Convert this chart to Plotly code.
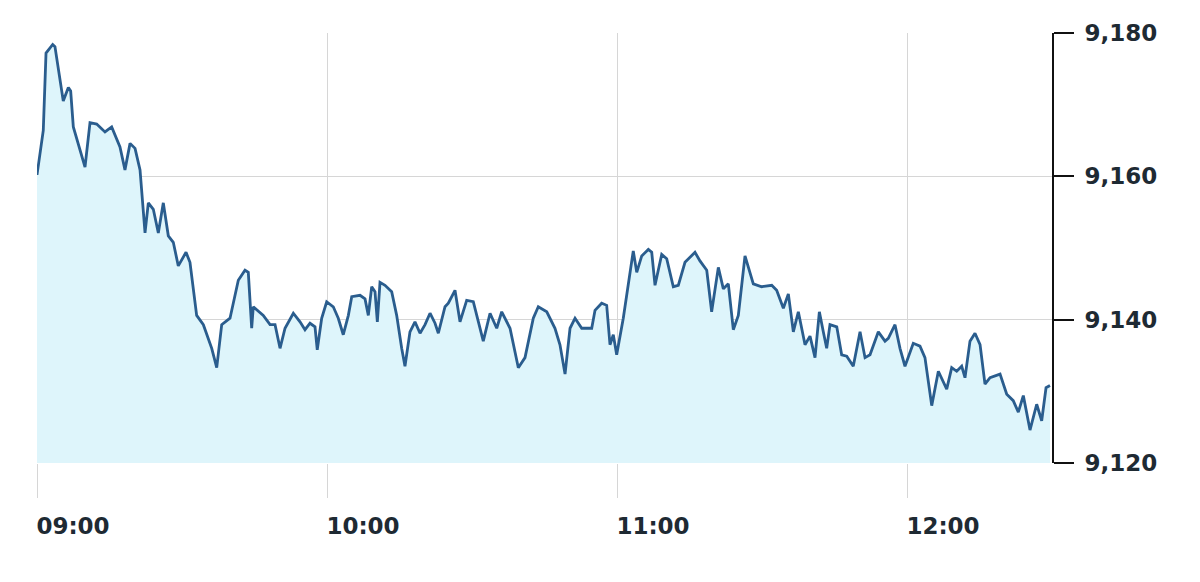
import plotly.graph_objects as go

session_date = "2024-01-02"

times = [
    "09:00:00", "09:01:18", "09:01:52", "09:03:15", "09:03:43", "09:04:37", "09:05:26", "09:06:29", "09:06:58", "09:07:31",
    "09:09:56", "09:10:58", "09:12:21", "09:14:04", "09:15:27", "09:17:10", "09:18:12", "09:19:15", "09:20:17", "09:21:19",
    "09:21:59", "09:22:21", "09:23:02", "09:24:04", "09:25:06", "09:26:08", "09:27:10", "09:28:12", "09:29:14", "09:30:50",
    "09:31:39", "09:33:02", "09:34:25", "09:36:09", "09:37:11",
    "09:38:13", "09:39:56", "09:41:39", "09:43:02", "09:43:43", "09:44:25", "09:44:45", "09:46:49", "09:48:13", "09:49:15",
    "09:50:17", "09:51:19", "09:53:02", "09:54:25", "09:55:27", "09:56:29", "09:57:31", "09:57:59", "09:58:54", "09:59:56",
    "10:01:18", "10:02:20", "10:03:22", "10:04:25", "10:05:07", "10:06:50", "10:07:52", "10:08:33", "10:09:15", "10:09:56",
    "10:10:25", "10:10:58", "10:12:00", "10:13:23", "10:14:25", "10:15:27", "10:16:08", "10:17:10", "10:18:12", "10:19:15",
    "10:20:17", "10:21:19", "10:22:21", "10:23:02", "10:24:25", "10:25:06", "10:26:29", "10:27:31", "10:28:54", "10:30:16",
    "10:32:20", "10:33:44", "10:35:07", "10:36:09", "10:37:52", "10:39:35", "10:40:58", "10:42:41", "10:43:43", "10:45:28",
    "10:47:10", "10:48:12", "10:49:15", "10:50:17", "10:51:19", "10:52:42", "10:54:46", "10:55:27", "10:56:50", "10:57:52",
    "10:58:33", "10:59:14", "10:59:56", "11:01:18", "11:02:20", "11:03:22", "11:04:05", "11:05:07", "11:06:29", "11:07:11",
    "11:07:52", "11:09:15", "11:10:17", "11:11:39", "11:12:41", "11:14:04", "11:16:08", "11:17:10", "11:18:34", "11:19:35",
    "11:20:58", "11:22:00", "11:23:02", "11:24:04", "11:25:06", "11:26:29", "11:28:12", "11:29:56",
    "11:32:01", "11:33:02", "11:34:25", "11:35:27", "11:36:29", "11:37:31", "11:38:54", "11:39:56", "11:40:58", "11:41:52",
    "11:42:41", "11:43:23", "11:44:04", "11:45:28", "11:46:29", "11:47:32", "11:48:53", "11:50:17", "11:51:19", "11:52:21",
    "11:54:04", "11:55:27", "11:56:08", "11:57:31", "11:58:33", "11:59:35", "12:01:18", "12:02:41", "12:03:43", "12:05:07",
    "12:06:29", "12:08:13", "12:09:15", "12:10:17", "12:11:19", "12:12:00", "12:13:02", "12:14:04", "12:15:07", "12:16:08",
    "12:17:11", "12:19:15", "12:20:38", "12:21:59", "12:23:02", "12:24:04", "12:25:27", "12:26:50", "12:27:52", "12:28:46",
    "12:29:35",
]

prices = [
    9160.2, 9166.4, 9177.2, 9178.4, 9178.1, 9174.2, 9170.5, 9172.4, 9171.9, 9166.9,
    9161.3, 9167.5, 9167.3, 9166.2, 9166.9, 9164.1, 9160.9, 9164.6, 9163.9, 9160.9,
    9155.4, 9152.1, 9156.3, 9155.4, 9152.1, 9156.3, 9151.7, 9150.8, 9147.5, 9149.4,
    9148.0, 9140.6, 9139.3, 9136.0, 9133.3,
    9139.3, 9140.2, 9145.5, 9146.9, 9146.6, 9138.8, 9141.8, 9140.6, 9139.3, 9139.3,
    9136.0, 9138.8, 9140.9, 9139.7, 9138.6, 9139.5, 9139.0, 9135.8, 9140.2, 9142.5,
    9141.8, 9140.2, 9137.9, 9140.6, 9143.2, 9143.4, 9142.9, 9140.6, 9144.6, 9143.9,
    9139.7, 9145.2, 9144.8, 9143.9, 9140.6, 9136.0, 9133.5, 9138.3, 9139.7, 9138.1,
    9139.3, 9140.9, 9139.5, 9138.1, 9141.8, 9142.3, 9144.1, 9139.7, 9142.7, 9142.5,
    9137.0, 9140.9, 9138.8, 9141.1, 9138.8, 9133.3, 9134.7, 9140.2, 9141.8, 9141.1,
    9138.8, 9136.5, 9132.4, 9138.8, 9140.2, 9138.8, 9138.8, 9141.3, 9142.3, 9142.0,
    9136.5, 9137.9, 9135.1, 9140.2, 9144.8, 9149.6, 9146.6, 9148.9, 9149.8, 9149.4,
    9144.8, 9149.1, 9148.5, 9144.6, 9144.8, 9148.0, 9149.4, 9148.2, 9146.9, 9141.1,
    9147.3, 9144.3, 9145.0, 9138.6, 9140.6, 9148.9, 9145.0, 9144.6,
    9144.8, 9144.1, 9141.6, 9143.6, 9138.3, 9141.1, 9136.5, 9137.7, 9134.7, 9141.1,
    9138.3, 9136.0, 9139.3, 9139.0, 9135.1, 9134.9, 9133.5, 9138.3, 9134.7, 9135.1,
    9138.3, 9137.0, 9137.4, 9139.3, 9136.0, 9133.5, 9136.7, 9136.3, 9134.7, 9128.0,
    9132.8, 9130.3, 9133.3, 9132.8, 9133.5, 9131.9, 9137.0, 9138.1, 9136.5, 9131.0,
    9131.9, 9132.4, 9129.6, 9128.7, 9127.1, 9129.4, 9124.6, 9128.2, 9125.9, 9130.5,
    9130.8,
]

x_tick_times = ["09:00", "10:00", "11:00", "12:00"]
x_range = ["09:00", "12:30"]
y_ticks = [9120, 9140, 9160, 9180]
y_range = [9120, 9180]

xs = [f"{session_date} {t}" for t in times]

font_family = "DejaVu Sans"
text_color = "#1e2a33"

fig = go.Figure()
fig.add_trace(go.Scatter(
    x=xs, y=prices, mode="lines",
    line=dict(color="#2a5d8e", width=2.8),
    fill="tozeroy", fillcolor="#def5fb",
    hoverinfo="skip", showlegend=False,
))

fig.update_layout(
    width=1200, height=582,
    margin=dict(l=29, r=156, t=20, b=127),
    paper_bgcolor="white", plot_bgcolor="white",
    font=dict(family=font_family, size=23, color=text_color),
)

fig.update_xaxes(
    type="date",
    range=[f"{session_date} {x_range[0]}", f"{session_date} {x_range[1]}"],
    tickvals=[f"{session_date} {t}" for t in x_tick_times],
    ticktext=x_tick_times,
    showgrid=True, gridcolor="#d6d6d6", gridwidth=1,
    ticks="outside", ticklen=34, tickcolor="#d6d6d6", tickwidth=1,
    ticklabelshift=36, ticklabelstandoff=8,
    tickfont=dict(family=font_family, size=23, color=text_color, weight="bold"),
    showline=False, zeroline=False,
)

fig.update_yaxes(
    side="right",
    range=y_range,
    tickvals=y_ticks,
    tickformat=",d",
    showgrid=True, gridcolor="#d6d6d6", gridwidth=1,
    ticks="outside", ticklen=20, tickcolor="#111111", tickwidth=2,
    showline=True, linecolor="#111111", linewidth=2,
    ticklabelstandoff=6,
    tickfont=dict(family=font_family, size=23, color=text_color, weight="bold"),
    zeroline=False,
)

fig.write_html("out.html")
